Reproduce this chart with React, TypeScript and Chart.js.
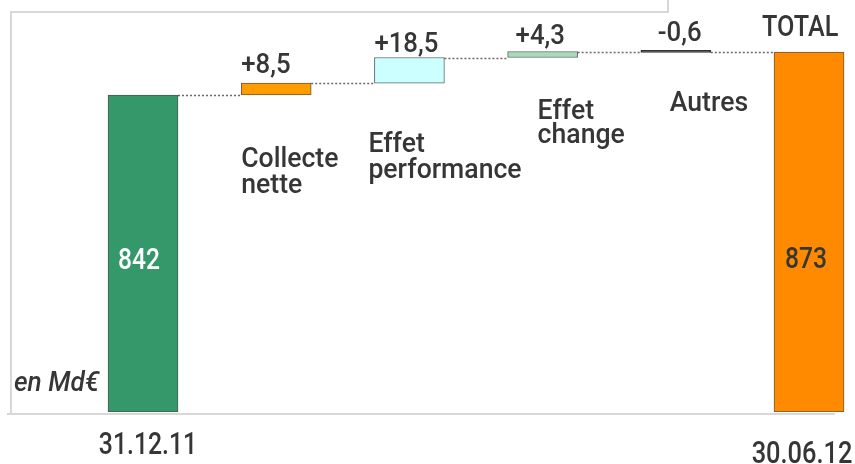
import React, { useEffect, useRef } from 'react';
import { Chart, registerables } from 'chart.js';

Chart.register(...registerables);

// ---- data ----
const categories = ['31.12.11', 'Collecte nette', 'Effet performance', 'Effet change', 'Autres', '30.06.12'];
const categoryLines = [['31.12.11'], ['Collecte', 'nette'], ['Effet', 'performance'], ['Effet', 'change'], ['Autres'], ['30.06.12']];
const startValue = 842;
const deltaValues = [8.5, 18.5, 4.3, -0.6];
const deltaLabels = ['+8,5', '+18,5', '+4,3', '-0,6'];
const totalValue = 873;
const startLabel = '842';
const totalValueLabel = '873';
const totalLabel = 'TOTAL';
const unitLabel = 'en Md€';
const axisMin = 613.5;
const axisMax = 901.8;
const barColors = ['#35986a', '#ff9c00', '#ccffff', '#a9d9bb', '#333333', '#ff8a00'];
const barBorders = ['#4a5a50', '#6a5a40', '#5a6a6a', '#5a6a60', '#333333', '#6a5a40'];

// floating ranges built from the values
const ranges: number[][] = (() => {
  const out: number[][] = [[axisMin, startValue]];
  let level = startValue;
  for (const d of deltaValues) {
    out.push([level, level + d]);
    level += d;
  }
  out.push([axisMin, totalValue]);
  return out;
})();

const FONT = 'Roboto, "Liberation Sans", sans-serif';
const TEXT = '#363636';

function drawText(ctx: CanvasRenderingContext2D, text: string, x: number, y: number, size: number, color: string, sx: number, align: CanvasTextAlign = 'left', style = '', weight = '500') {
  ctx.save();
  ctx.translate(x, y);
  ctx.scale(sx, 1);
  ctx.font = `${style} ${weight} ${size}px ${FONT}`;
  ctx.fillStyle = color;
  ctx.textAlign = align;
  ctx.textBaseline = 'alphabetic';
  ctx.fillText(text, 0, 0);
  ctx.restore();
}

const overlay = {
  id: 'overlay',
  beforeDatasetsDraw(chart: any) {
    const ctx: CanvasRenderingContext2D = chart.ctx;
    const area = chart.chartArea;
    const meta = chart.getDatasetMeta(0);
    const ys = chart.scales.y;
    // frame
    ctx.save();
    ctx.strokeStyle = '#d8d8d8';
    ctx.lineWidth = 2;
    ctx.beginPath();
    ctx.moveTo(668, 0);
    ctx.lineTo(668, area.top);
    ctx.lineTo(area.left - 1, area.top);
    ctx.lineTo(area.left - 1, area.bottom + 2);
    ctx.moveTo(area.left - 5, area.bottom + 2);
    ctx.lineTo(area.right - 10, area.bottom + 2);
    ctx.stroke();
    ctx.restore();
    // connectors
    ctx.save();
    ctx.strokeStyle = '#6a6a6a';
    ctx.lineWidth = 1.5;
    ctx.setLineDash([2, 2]);
    for (let i = 0; i < meta.data.length - 1; i++) {
      const a = meta.data[i];
      const b = meta.data[i + 1];
      const y = Math.round(ys.getPixelForValue(ranges[i][1])) + 0.5;
      ctx.beginPath();
      ctx.moveTo(a.x + a.width / 2, y);
      ctx.lineTo(b.x - b.width / 2, y);
      ctx.stroke();
    }
    ctx.restore();
  },
  afterDatasetsDraw(chart: any) {
    const ctx: CanvasRenderingContext2D = chart.ctx;
    const meta = chart.getDatasetMeta(0);
    const ys = chart.scales.y;
    const left = (i: number) => meta.data[i].x - meta.data[i].width / 2;
    const cx = (i: number) => meta.data[i].x;
    const top = (i: number) => ys.getPixelForValue(Math.max(ranges[i][0], ranges[i][1]));

    // delta labels above bars
    const dOff = [[0, 10], [0, 6], [8, 8], [17, 11]];
    deltaLabels.forEach((t, k) => {
      const i = k + 1;
      drawText(ctx, t, left(i) + dOff[k][0], top(i) - dOff[k][1], 28, TEXT, 0.92);
    });
    // TOTAL
    drawText(ctx, totalLabel, left(5) - 12, top(5) - 16, 29, TEXT, 0.87);

    // category labels for middle bars
    const cPos = [[0, 167, 26], [-6, 152, 26], [30, 119, 24], [29, 111, 26]];
    for (let k = 0; k < 4; k++) {
      const i = k + 1;
      const lines = categoryLines[i];
      lines.forEach((ln, j) => {
        drawText(ctx, ln, left(i) + cPos[k][0], cPos[k][1] + j * cPos[k][2], 28, TEXT, 0.95);
      });
    }
    // dates under end bars
    drawText(ctx, categoryLines[0][0], cx(0) + 5, 454, 31, TEXT, 0.8, 'center');
    drawText(ctx, categoryLines[5][0], cx(5) - 7, 463, 31, TEXT, 0.82, 'center');

    // values inside end bars
    drawText(ctx, startLabel, cx(0) - 4, 269, 30, '#ffffff', 0.82, 'center');
    drawText(ctx, totalValueLabel, cx(5) - 3, 268, 30, TEXT, 0.82, 'center');

    // unit
    drawText(ctx, unitLabel, 14, 391, 27, TEXT, 0.97, 'left', 'italic');
  },
};

export default function App() {
  const ref = useRef<HTMLCanvasElement>(null);
  useEffect(() => {
    if (!ref.current) return;
    const chart = new Chart(ref.current, {
      type: 'bar',
      data: {
        datasets: [
          {
            label: 'waterfall',
            data: categories.map((c, i) => ({ x: i, y: ranges[i] })) as any,
            backgroundColor: barColors,
            borderColor: barBorders,
            borderWidth: 1,
            borderSkipped: false,
            barThickness: 70,
            minBarLength: 2,
          },
        ],
      },
      options: {
        responsive: false,
        animation: false,
        events: [],
        layout: { padding: { left: 12, right: 10, top: 12, bottom: 52 } },
        plugins: { legend: { display: false }, tooltip: { enabled: false }, title: { display: false } },
        scales: {
          x: { type: 'linear', min: -0.9835, max: 5.27, offset: false, display: false },
          y: { type: 'linear', min: axisMin, max: axisMax, display: false },
        },
      },
      plugins: [overlay],
    });
    return () => chart.destroy();
  }, []);
  return (
    <div style={{ position: 'absolute', left: 0, top: 0, width: 855, height: 464, background: '#fff' }}>
      <canvas ref={ref} width={855} height={464} style={{ display: 'block' }} />
    </div>
  );
}
